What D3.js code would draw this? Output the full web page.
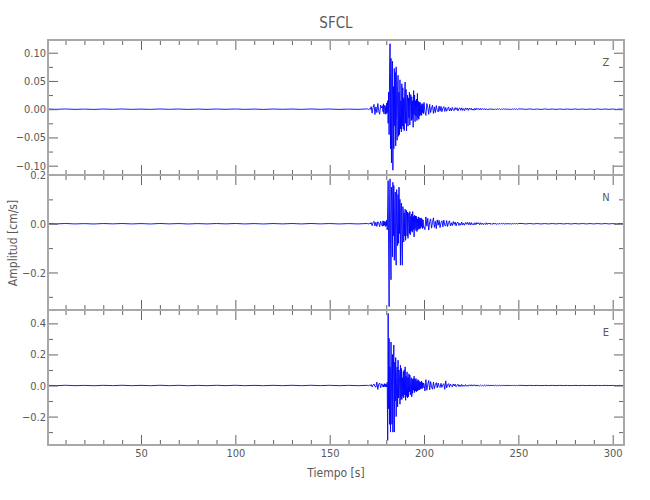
<!DOCTYPE html>
<html><head><meta charset="utf-8">
<script src="https://cdn.jsdelivr.net/npm/d3@7"></script>
<style>
body{margin:0;background:#fff;}
text{font-family:"DejaVu Sans Condensed","DejaVu Sans",sans-serif;font-stretch:condensed;fill:#5a5a5a;}
</style></head>
<body><svg id="c" width="650" height="500"></svg>
<script>
// ---- data ----
const title = "SFCL";
const components = ["Z", "N", "E"];
const xLabel = "Tiempo [s]";
const yLabel = "Amplitud [cm/s]";
const xDomain = [0.7, 306];
const xMajorTicks = [50, 100, 150, 200, 250, 300];
const xMinorTicks = [10,20,30,40,60,70,80,90,110,120,130,140,160,170,180,190,210,220,230,240,260,270,280,290];

const zDomain = [-0.1165, 0.1225];
const nDomain = [-0.354, 0.2];
const eDomain = [-0.383, 0.486];
const zMajorTicks = [-0.10, -0.05, 0.00, 0.05, 0.10];
const zMinorTicks = [-0.075, -0.025, 0.025, 0.075];
const nMajorTicks = [-0.2, 0.0, 0.2];
const nMinorTicks = [-0.3, -0.1, 0.1];
const eMajorTicks = [-0.2, 0.0, 0.2, 0.4];
const eMinorTicks = [-0.3, -0.1, 0.1, 0.3];

// quiet part: t = 0 .. 165 s, every 5 s
const quietStart = 0, quietStep = 5;
const zQuiet = [0.0003,-0.0002,0.0004,-0.0003,0.0002,-0.0004,0.0003,-0.0002,0.0004,-0.0003,0.0002,-0.0003,0.0004,-0.0002,0.0003,-0.0004,0.0002,-0.0003,0.0003,-0.0002,0.0004,-0.0003,0.0002,-0.0004,0.0003,-0.0002,0.0003,-0.0003,0.0004,-0.0002,0.0003,-0.0004,0.0002,-0.0003];
const nQuiet = [0.0008,-0.0006,0.0010,-0.0008,0.0005,-0.0010,0.0008,-0.0005,0.0009,-0.0007,0.0006,-0.0009,0.0010,-0.0006,0.0008,-0.0010,0.0006,-0.0008,0.0009,-0.0006,0.0010,-0.0008,0.0006,-0.0009,0.0008,-0.0006,0.0009,-0.0008,0.0010,-0.0006,0.0008,-0.0009,0.0006,-0.0008];
const eQuiet = [0.0012,-0.0010,0.0015,-0.0012,0.0008,-0.0014,0.0012,-0.0009,0.0014,-0.0011,0.0010,-0.0013,0.0015,-0.0010,0.0012,-0.0014,0.0009,-0.0012,0.0013,-0.0010,0.0015,-0.0012,0.0009,-0.0013,0.0012,-0.0010,0.0013,-0.0012,0.0015,-0.0010,0.0012,-0.0013,0.0010,-0.0012];

// P-wave part: t = 170 .. 177.5 s, every 0.5 s
const preStart = 170, preStep = 0.5;
const zPre = [0.0005,-0.0008,0.0010,-0.0006,0.0045,-0.0070,0.0030,0.0085,-0.0095,0.0040,-0.0060,0.0100,-0.0030,-0.0090,0.0075,0.0020];
const nPre = [0.001,-0.002,0.003,-0.001,0.005,-0.008,0.004,0.010,-0.009,0.006,-0.011,0.008,0.003,-0.012,0.010,-0.004];
const ePre = [0.001,-0.002,0.003,-0.002,0.006,-0.009,0.004,0.010,-0.006,-0.011,0.022,-0.025,0.008,0.016,-0.014,0.010];

// strong motion: t = 178 .. 199.75 s, every 0.25 s
const strongStart = 178, strongStep = 0.25;
const zStrong = [
 0.0060,-0.0045,0.0095,-0.0080,0.0030,0.0070,-0.0090,0.0050,
 -0.0080,0.0110,-0.0060,0.0150,-0.0250,0.0300,-0.0450,0.0650,
 0.1160,-0.0700,0.0900,-0.0950,0.0500,0.0850,-0.1080,0.0400,
 -0.0700,0.0720,-0.0300,0.0650,-0.0650,0.0750,-0.0200,-0.0550,
 0.0400,0.0600,-0.0480,0.0300,-0.0450,0.0520,-0.0350,0.0150,
 -0.0400,0.0450,-0.0300,0.0380,-0.0350,0.0200,-0.0380,0.0300,
 0.0480,-0.0250,0.0350,-0.0380,0.0100,0.0250,-0.0300,0.0200,
 -0.0150,0.0300,-0.0280,0.0050,0.0260,-0.0200,0.0220,-0.0180,
 0.0150,-0.0320,0.0330,-0.0100,0.0250,-0.0220,0.0150,-0.0120,
 0.0180,-0.0200,0.0280,-0.0160,0.0140,-0.0180,0.0120,-0.0120,
 0.0120,-0.0100,0.0080,-0.0110,0.0100,-0.0060,0.0090,-0.0080];
const nStrong = [
 -0.010,0.012,-0.008,0.010,-0.006,0.009,-0.011,0.008,
 -0.008,0.015,-0.025,0.060,0.177,-0.120,-0.340,0.090,
 0.184,-0.080,-0.230,0.150,0.090,-0.136,0.170,-0.050,
 0.157,-0.150,0.060,0.130,-0.120,-0.170,0.140,0.030,
 -0.090,0.120,-0.080,0.150,-0.040,0.100,-0.170,0.060,
 0.085,-0.100,-0.170,0.070,0.060,-0.075,0.045,-0.050,
 0.060,-0.068,0.030,0.055,-0.050,0.048,-0.060,0.020,
 0.045,-0.040,0.050,-0.045,0.030,-0.030,0.040,-0.035,
 0.050,-0.025,0.030,-0.054,0.035,-0.020,0.032,-0.028,
 0.030,-0.032,0.020,-0.025,0.028,-0.020,0.025,-0.022,
 0.022,-0.018,0.024,-0.012,0.018,-0.020,0.016,-0.015];
const eStrong = [
 0.008,-0.010,0.004,-0.010,0.012,-0.006,0.010,-0.008,
 0.006,-0.010,0.020,-0.353,0.464,-0.150,0.303,-0.250,
 0.120,-0.300,0.280,0.050,-0.250,0.200,-0.300,0.100,
 0.260,-0.300,0.150,-0.100,0.180,-0.200,0.060,0.120,
 -0.138,0.163,-0.080,0.100,0.050,-0.120,0.130,-0.090,
 0.110,-0.090,0.050,-0.070,0.090,-0.080,0.100,-0.060,
 0.120,-0.095,0.060,-0.070,0.088,-0.080,0.050,-0.073,
 0.075,-0.040,0.067,-0.060,0.030,0.050,-0.073,0.040,
 -0.050,0.045,-0.030,0.060,-0.045,0.040,-0.035,0.045,
 -0.040,0.030,-0.035,0.038,-0.030,0.032,-0.028,0.025,
 -0.024,0.022,-0.020,0.028,-0.020,0.018,-0.015,0.016];

// coda: t = 200 .. 250 s, every 0.5 s
const codaStart = 200, codaStep = 0.5;
const zCoda = [
 0.0120,-0.0050,-0.0110,0.0100,0.0030,-0.0090,0.0085,-0.0060,0.0020,0.0070,
 -0.0075,0.0040,-0.0060,0.0065,-0.0020,-0.0050,0.0055,-0.0035,0.0050,-0.0045,
 0.0020,0.0045,-0.0040,0.0030,-0.0035,0.0010,0.0040,-0.0032,0.0015,-0.0030,
 0.0032,-0.0015,-0.0025,0.0028,-0.0010,0.0025,-0.0030,0.0012,0.0022,-0.0020,
 0.0024,-0.0022,0.0010,-0.0025,0.0022,-0.0008,0.0020,-0.0021,0.0018,-0.0006,
 0.0019,-0.0017,0.0005,-0.0018,0.0016,-0.0014,0.0017,-0.0005,0.0013,-0.0014,
 0.0014,-0.0012,0.0013,-0.0004,0.0012,-0.0013,0.0010,-0.0011,0.0004,-0.0010,
 0.0011,-0.0010,0.0009,-0.0011,0.0003,-0.0009,0.0008,-0.0010,0.0009,-0.0003,
 0.0009,-0.0008,0.0007,-0.0009,0.0008,-0.0003,0.0008,-0.0006,0.0007,-0.0008,
 0.0007,-0.0006,0.0002,-0.0007,0.0006,-0.0005,0.0006,-0.0002,0.0005,-0.0006,
 0.0005];
const nCoda = [
 -0.012,-0.024,0.028,-0.010,0.022,-0.026,0.008,0.020,-0.018,0.006,
 0.024,-0.015,0.010,-0.020,0.016,-0.006,0.014,-0.016,0.004,0.012,
 -0.013,0.015,-0.006,-0.010,0.013,-0.011,0.005,0.012,-0.009,0.004,
 -0.008,0.009,-0.003,0.007,-0.009,0.004,0.006,-0.007,0.002,-0.006,
 0.007,-0.005,0.002,-0.006,0.005,-0.002,0.006,-0.004,0.005,-0.005,
 0.005,-0.004,0.001,-0.005,0.004,-0.004,0.005,-0.001,0.004,-0.004,
 0.004,-0.003,0.003,-0.004,0.001,-0.003,0.004,-0.003,0.003,-0.001,
 0.003,-0.003,0.001,-0.002,0.003,-0.002,0.002,-0.003,0.001,-0.002,
 0.002,-0.002,0.002,-0.001,0.002,-0.0015,0.001,-0.0015,0.0015,-0.0015,
 0.0015,-0.0012,0.0005,-0.0015,0.0012,-0.001,0.0012,-0.0005,0.001,-0.001,
 0.001];
const eCoda = [
 0.010,-0.035,0.038,-0.030,0.008,0.032,-0.028,0.025,-0.010,-0.024,
 0.022,-0.020,0.005,0.018,-0.015,0.016,-0.006,-0.013,0.014,-0.012,
 0.004,0.012,-0.025,0.030,-0.015,0.005,0.012,-0.011,0.010,-0.004,
 -0.009,0.010,-0.003,0.009,-0.008,0.002,0.008,-0.007,0.004,-0.006,
 0.007,-0.006,0.002,-0.005,0.006,-0.005,0.002,-0.005,0.005,-0.002,
 0.005,-0.004,0.004,-0.001,0.004,-0.004,0.004,-0.003,0.001,-0.003,
 0.003,-0.003,0.001,-0.003,0.003,-0.003,0.003,-0.001,0.003,-0.002,
 0.002,-0.002,0.002,-0.001,0.002,-0.002,0.002,-0.002,0.001,-0.0015,
 0.0015,-0.0015,0.0005,-0.0012,0.0015,-0.0012,0.0012,-0.0005,0.0012,-0.001,
 0.0012,-0.001,0.001,-0.0004,0.001,-0.001,0.001,-0.0008,0.0004,-0.0008,
 0.0008];

// tail: t = 252 .. 306 s, every 2 s
const tailStart = 252, tailStep = 2;
const zTail = [0.0004,-0.0003,0.0005,-0.0004,0.0003,-0.0004,0.0004,-0.0003,0.0003,-0.0004,0.0004,-0.0003,0.0003,-0.0003,0.0004,-0.0003,0.0003,-0.0004,0.0003,-0.0003,0.0004,-0.0003,0.0003,-0.0003,0.0003,-0.0004,0.0003,-0.0003];
const nTail = [0.0009,-0.0008,0.0010,-0.0007,0.0008,-0.0009,0.0007,-0.0008,0.0009,-0.0007,0.0008,-0.0008,0.0007,-0.0009,0.0008,-0.0007,0.0009,-0.0008,0.0007,-0.0008,0.0008,-0.0007,0.0009,-0.0008,0.0007,-0.0008,0.0008,-0.0007];
const eTail = [0.0008,-0.0007,0.0008,-0.0006,0.0007,-0.0008,0.0006,-0.0007,0.0008,-0.0006,0.0007,-0.0007,0.0006,-0.0008,0.0007,-0.0006,0.0008,-0.0007,0.0006,-0.0007,0.0007,-0.0006,0.0008,-0.0007,0.0006,-0.0007,0.0007,-0.0006];

// ---- layout ----
const L = 48, R = 624, panelTops = [40, 175, 310], PH = 135;
const svg = d3.select("#c");
const x = d3.scaleLinear().domain(xDomain).range([L, R]);

const panels = [
  {name: components[0], dom: zDomain, major: zMajorTicks, minor: zMinorTicks, fmt: d3.format(".2f"),
   segs: [[zQuiet, quietStart, quietStep], [zPre, preStart, preStep], [zStrong, strongStart, strongStep], [zCoda, codaStart, codaStep], [zTail, tailStart, tailStep]]},
  {name: components[1], dom: nDomain, major: nMajorTicks, minor: nMinorTicks, fmt: d3.format(".1f"),
   segs: [[nQuiet, quietStart, quietStep], [nPre, preStart, preStep], [nStrong, strongStart, strongStep], [nCoda, codaStart, codaStep], [nTail, tailStart, tailStep]]},
  {name: components[2], dom: eDomain, major: eMajorTicks, minor: eMinorTicks, fmt: d3.format(".1f"),
   segs: [[eQuiet, quietStart, quietStep], [ePre, preStart, preStep], [eStrong, strongStart, strongStep], [eCoda, codaStart, codaStep], [eTail, tailStart, tailStep]]}
];

function series(p) {
  const pts = [];
  p.segs.forEach(([vals, t0, dt]) => vals.forEach((v, i) => pts.push([t0 + i * dt, v])));
  return pts;
}

const tickCol = "#666", frameCol = "#a8a8a8";

panels.forEach((p, k) => {
  const top = panelTops[k], bot = top + PH;
  const y = d3.scaleLinear().domain(p.dom).range([bot, top]);
  const g = svg.append("g");

  svg.append("clipPath").attr("id", "clip" + k)
    .append("rect").attr("x", L).attr("y", top - 1).attr("width", R - L).attr("height", PH + 2);

  g.append("path").datum(series(p))
    .attr("clip-path", "url(#clip" + k + ")")
    .attr("fill", "none").attr("stroke", "#0000ff").attr("stroke-width", 0.9)
    .attr("stroke-linejoin", "bevel")
    .attr("d", d3.line().x(d => x(d[0])).y(d => y(d[1])));

  function styleAxis(sel) {
    sel.select(".domain").remove();
    sel.selectAll(".tick line").attr("stroke", tickCol).attr("stroke-width", 1);
    sel.selectAll(".tick text").attr("fill", "#5a5a5a").attr("font-size", 11)
      .style("font-family", '"DejaVu Sans Condensed","DejaVu Sans",sans-serif');
  }
  g.append("g").attr("transform", `translate(${L},0)`)
    .call(d3.axisLeft(y).tickValues(p.major).tickSizeInner(-10).tickSizeOuter(0).tickPadding(2).tickFormat(p.fmt))
    .call(styleAxis);
  g.append("g").attr("transform", `translate(${L},0)`)
    .call(d3.axisLeft(y).tickValues(p.minor).tickSizeInner(-5).tickSizeOuter(0).tickFormat(""))
    .call(styleAxis);
  g.append("g").attr("transform", `translate(${R},0)`)
    .call(d3.axisRight(y).tickValues(p.major).tickSizeInner(-10).tickSizeOuter(0).tickFormat(""))
    .call(styleAxis);
  g.append("g").attr("transform", `translate(${R},0)`)
    .call(d3.axisRight(y).tickValues(p.minor).tickSizeInner(-5).tickSizeOuter(0).tickFormat(""))
    .call(styleAxis);
  g.append("g").attr("transform", `translate(0,${top})`)
    .call(d3.axisTop(x).tickValues(xMajorTicks).tickSizeInner(-10).tickSizeOuter(0).tickFormat(""))
    .call(styleAxis);
  g.append("g").attr("transform", `translate(0,${top})`)
    .call(d3.axisTop(x).tickValues(xMinorTicks).tickSizeInner(-5).tickSizeOuter(0).tickFormat(""))
    .call(styleAxis);
  g.append("g").attr("transform", `translate(0,${bot})`)
    .call(d3.axisBottom(x).tickValues(xMajorTicks).tickSizeInner(-10).tickSizeOuter(0).tickPadding(4)
      .tickFormat(k === 2 ? d3.format("d") : ""))
    .call(styleAxis);
  g.append("g").attr("transform", `translate(0,${bot})`)
    .call(d3.axisBottom(x).tickValues(xMinorTicks).tickSizeInner(-5).tickSizeOuter(0).tickFormat(""))
    .call(styleAxis);

  g.append("rect").attr("x", L).attr("y", top).attr("width", R - L).attr("height", PH)
    .attr("fill", "none").attr("stroke", frameCol).attr("stroke-width", 2);

  g.append("text").attr("x", 606).attr("y", top + 26).attr("text-anchor", "middle")
    .attr("font-size", 11).text(p.name);
});

svg.append("text").attr("x", 336).attr("y", 28).attr("text-anchor", "middle")
  .attr("font-size", 15).text(title);
svg.append("text").attr("x", 336).attr("y", 477).attr("text-anchor", "middle")
  .attr("font-size", 12).text(xLabel);
svg.append("text").attr("transform", "translate(17,243) rotate(-90)").attr("text-anchor", "middle")
  .attr("font-size", 12).text(yLabel);
</script></body></html>
